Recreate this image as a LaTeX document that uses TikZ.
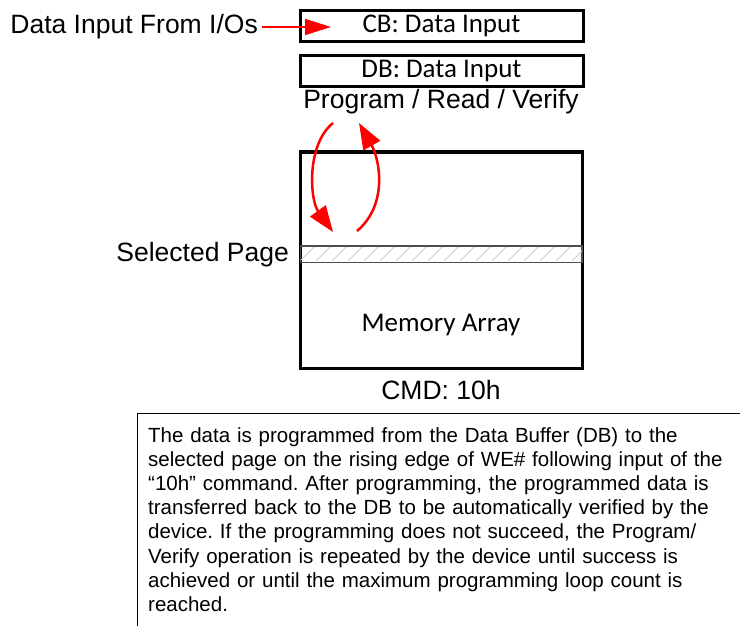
\documentclass[tikz,border=0pt]{standalone}
\usepackage{fontspec}
\setmainfont{Liberation Sans}
\newfontfamily\calfont{Carlito}
\usepackage{tikz}
\usetikzlibrary{arrows.meta}
\usepackage{xcolor}
\frenchspacing
\definecolor{ColRed}{RGB}{255,0,0}
\definecolor{ColHatch}{RGB}{205,205,205}
\tikzstyle{BufBox}=[draw=black,line width=3pt,minimum width=283pt,minimum height=31pt,
inner sep=0pt,font=\calfont\fontsize{27}{30}\selectfont]
\tikzstyle{LabelText}=[inner sep=0pt,font=\fontsize{26.5}{30}\selectfont]
\tikzstyle{RedArrow}=[ColRed,line width=2.5pt,-{Triangle[length=26pt,width=19pt]}]
\tikzstyle{NoteFrame}=[draw=black,line width=1pt,anchor=north west,minimum width=640pt,
minimum height=260pt,inner sep=0pt]
\tikzstyle{NoteText}=[anchor=north west,inner xsep=11pt,inner ysep=14pt,
text width=600pt,align=left,font=\fontsize{20.5}{24.2}\selectfont]

\begin{document}
\begin{tikzpicture}[x=1pt,y=-1pt]
        \useasboundingbox(0,0)rectangle(740,626);
        \clip(0,0)rectangle(740,626);
        \node[BufBox](cb)at(441.5,26){CB: Data Input};
        \node[BufBox](db)at(441.5,71){DB: Data Input};
        \node[LabelText](prv)at(441,102){Program / Read / Verify};
        \node[LabelText,anchor=east](src)at(258,27){Data Input From I/Os};
        \coordinate(cbin)at(331,27);
        \draw[ColRed,line width=2pt,-{Triangle[length=26pt,width=16pt]}]([xshift=4pt]src.east)--(cbin);
        % memory array with the selected page
        \node[draw=black,line width=3pt,minimum width=282pt,minimum height=216pt,inner sep=0pt](mem)at(441,260){};
        \node[draw=black!70,line width=1pt,minimum width=281pt,minimum height=16pt,inner sep=0pt](page)at(441,254){};
        \begin{scope}
            \clip(page.south west)rectangle(page.north east);
            \foreach \k in {0,...,18}{
                \draw[ColHatch,line width=1pt](300+16*\k,261)--++(14,-14);
            }
        \end{scope}
        \draw[draw=black!70,line width=1pt](page.south west)rectangle(page.north east);
        \node[inner sep=0pt,font=\calfont\fontsize{27}{30}\selectfont](memtxt)at(441,325){Memory Array};
        \node[LabelText,anchor=east](sel)at(289,255){Selected Page};
        \node[LabelText](cmd)at(441,390){CMD: 10h};
        % program and verify arrows
        \coordinate(pa)at(333,123);
        \coordinate(pb)at(333,232);
        \coordinate(va)at(357,231);
        \coordinate(vb)at(359,123);
        \draw[RedArrow](pa)..controls(306,145)and(310,200)..(pb);
        \draw[RedArrow](va)..controls(388,205)and(380,160)..(vb);
        \node[NoteFrame](frame)at(137,413){};
        \node[NoteText](note)at(frame.north west){The data is programmed from the Data Buffer (DB) to the\\
selected page on the rising edge of WE\# following input of the\\
``10h'' command. After programming, the programmed data is\\
transferred back to the DB to be automatically verified by the\\
device. If the programming does not succeed, the Program/\\
Verify operation is repeated by the device until success is\\
achieved or until the maximum programming loop count is\\
reached.};
    \end{tikzpicture}
\end{document}
